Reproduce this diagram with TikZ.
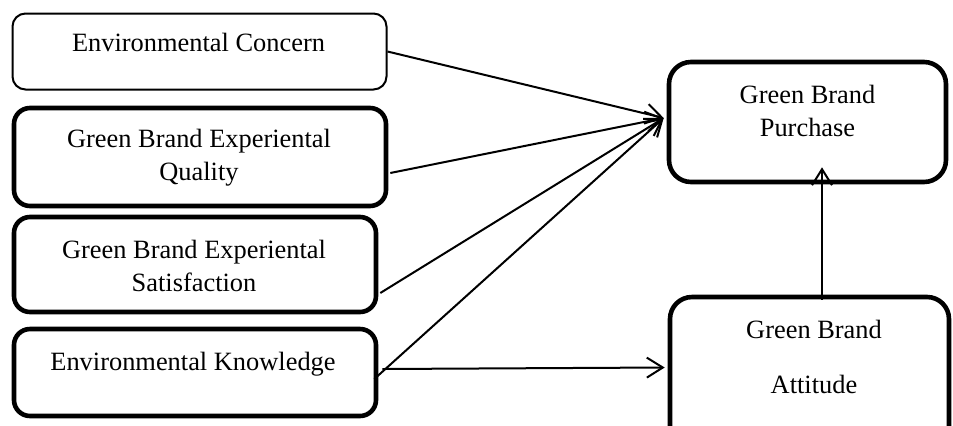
\documentclass[tikz,border=0pt]{standalone}
\usepackage{fontspec}
\setmainfont{Liberation Serif}
\usetikzlibrary{arrows.meta}
\begin{document}
\begin{tikzpicture}[x=0.5pt,y=-0.5pt,
  box/.style={draw,fill=white,inner sep=0pt},
  thinbox/.style={box,line width=1pt,rounded corners=6.5pt},
  thickbox/.style={box,line width=2.3pt,rounded corners=8pt},
  bigbox/.style={box,line width=2.3pt,rounded corners=11pt},
  lbl/.style={inner sep=0pt,align=center,font=\fontsize{13.2}{16.5}\selectfont},
  conn/.style={line width=1pt,-{Straight Barb[length=8pt,width=10pt]}}]
\useasboundingbox (0,0) rectangle (953,425);
\clip (0,0) rectangle (953,425);
% boxes
\node[thinbox,minimum width=187pt,minimum height=38pt] (con) at (199.5,51.5) {};
\node[thickbox,minimum width=186pt,minimum height=49pt] (qual) at (200,157) {};
\node[thickbox,minimum width=181pt,minimum height=47.5pt] (sat) at (195,264.5) {};
\node[thickbox,minimum width=181pt,minimum height=43.5pt] (kn) at (195,372.5) {};
\node[bigbox,minimum width=138.5pt,minimum height=60pt] (pur) at (807.5,122) {};
\node[bigbox,minimum width=139.5pt,minimum height=86.5pt] (att) at (809.5,383.5) {};
% labels
\node[lbl] (tcon) at (198.5,44.4) {\strut Environmental Concern};
\node[lbl] (tqual) at (199,156.9) {\strut Green Brand Experiental\\\strut Quality};
\node[lbl] (tsat) at (194,267.9) {\strut Green Brand Experiental\\\strut Satisfaction};
\node[lbl] (tkn) at (193,363.4) {\strut Environmental Knowledge};
\node[lbl] (tpur) at (807.5,112.9) {\strut Green Brand\\\strut Purchase};
\node[lbl] (tatt) at (814,358.9) {\strut Green Brand\\[11pt]\strut Attitude};
% connector points
\coordinate (pin) at ([shift={(-3,-4)}]pur.west);
\coordinate (ain) at ([shift={(-3,-16)}]att.west);
\coordinate (vs) at ([shift={(12.5,5)}]att.north);
\coordinate (ve) at ([shift={(14.5,-17)}]pur.south);
% connectors
\draw[conn] (con.east) -- (pin);
\draw[conn] ([shift={(2,16)}]qual.east) -- (pin);
\draw[conn] ([shift={(2,28.5)}]sat.east) -- (pin);
\draw[conn] ([shift={(-4,6.5)}]kn.east) -- (pin);
\draw[conn] ([shift={(4,-3.5)}]kn.east) -- (ain);
\draw[conn] (vs) -- (ve);
\end{tikzpicture}
\end{document}
